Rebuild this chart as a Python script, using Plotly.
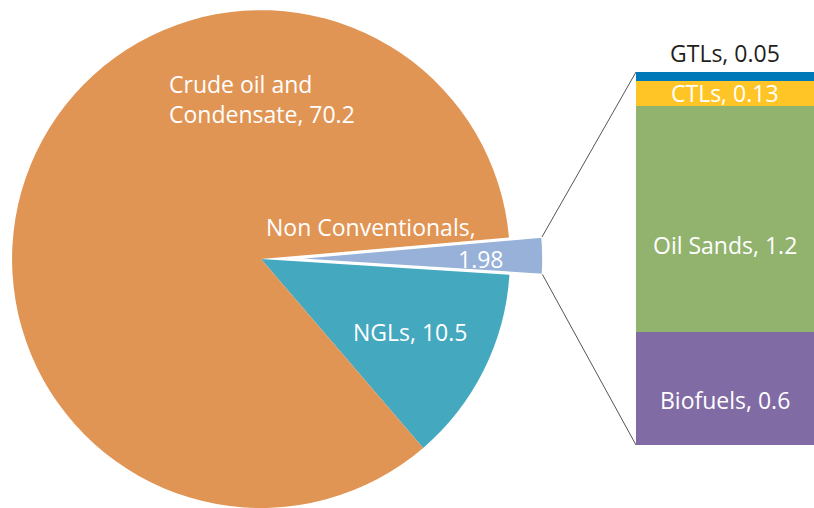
import math
import plotly.graph_objects as go

W, H = 814, 508

# ---- data ----
pie_labels = ["Non Conventionals", "NGLs", "Crude oil and Condensate"]
pie_values = [1.98, 10.5, 70.2]
pie_colors = ["#97B1D9", "#44A8BF", "#E19555"]

bar_labels = ["Biofuels", "Oil Sands", "CTLs", "GTLs"]
bar_values = [0.6, 1.2, 0.13, 0.05]
bar_colors = ["#806BA5", "#92B36E", "#FFC526", "#0079B8"]

# ---- geometry / style ----
ROTATION = 85
PULL_PX = 33
pie_dom_x = [0, 2 * 261 / W]
pie_dom_y = [0, 0.98]
bar_dom_x = [636 / W, 1]
bar_dom_y = [63 / H, 436 / H]

R = min(W * (pie_dom_x[1] - pie_dom_x[0]), H * (pie_dom_y[1] - pie_dom_y[0])) / 2
cx = W * (pie_dom_x[0] + pie_dom_x[1]) / 2
cy = H * (1 - (pie_dom_y[0] + pie_dom_y[1]) / 2)  # pixel from top

total = sum(pie_values)
theta1 = math.radians(90 - ROTATION)
span = 2 * math.pi * pie_values[0] / total
theta2 = theta1 - span
thetam = (theta1 + theta2) / 2
dx = PULL_PX * math.cos(thetam)
dy = PULL_PX * math.sin(thetam)
pulled_dom_x = [pie_dom_x[0] + dx / W, pie_dom_x[1] + dx / W]
pulled_dom_y = [pie_dom_y[0] + dy / H, pie_dom_y[1] + dy / H]
pcx, pcy = cx + dx, cy - dy

fig = go.Figure()

# main pie (non-conventionals slice left empty)
fig.add_trace(go.Pie(
    labels=pie_labels, values=pie_values, sort=False, direction="clockwise",
    rotation=ROTATION, textinfo="none", hoverinfo="label+value",
    marker=dict(colors=["rgba(0,0,0,0)", pie_colors[1], pie_colors[2]],
                line=dict(color="white", width=[0, 0, 0])),
    domain=dict(x=pie_dom_x, y=pie_dom_y), showlegend=False,
))
# pulled-out slice
fig.add_trace(go.Pie(
    labels=pie_labels, values=pie_values, sort=False, direction="clockwise",
    rotation=ROTATION, textinfo="none", hoverinfo="label+value",
    marker=dict(colors=[pie_colors[0], "rgba(0,0,0,0)", "rgba(0,0,0,0)"],
                line=dict(color="white", width=[1.5, 0, 0])),
    domain=dict(x=pulled_dom_x, y=pulled_dom_y), showlegend=False,
))

for lab, val, col in zip(bar_labels, bar_values, bar_colors):
    fig.add_trace(go.Bar(x=[0], y=[val], width=1, name=lab, marker_color=col,
                         marker_line_width=0, showlegend=False,
                         hovertemplate=lab + ", %{y}<extra></extra>"))

# connector lines
ux = pcx + R * math.cos(theta1)
uy = pcy - R * math.sin(theta1)
lx = pcx + R * math.cos(theta2)
ly = pcy - R * math.sin(theta2)
line_style = dict(color="#555555", width=1)
fig.add_shape(type="line", xref="paper", yref="paper",
              x0=ux / W, y0=1 - uy / H, x1=bar_dom_x[0], y1=bar_dom_y[1], line=line_style)
fig.add_shape(type="line", xref="paper", yref="paper",
              x0=lx / W, y0=1 - ly / H, x1=bar_dom_x[0], y1=bar_dom_y[0], line=line_style)

FONT = "Open Sans"
FS = 23

def ann_px(text, x, y, xanchor="center", align="center", color="white"):
    fig.add_annotation(text=text, x=x / W, y=1 - y / H, xref="paper", yref="paper",
                       xanchor=xanchor, yanchor="middle", align=align, showarrow=False,
                       font=dict(family=FONT, size=FS, color=color))

ann_px(f"Crude oil and<br>Condensate, {pie_values[2]}", 167, 99, xanchor="left", align="left")
ann_px("Non Conventionals,", 478, 227, xanchor="right", align="right")
ann_px(f"{pie_values[0]}", 506, 259, xanchor="right", align="right")
ann_px(f"NGLs, {pie_values[1]}", 410, 332)

# bar labels: (y position in data units, pixel shift)
bar_label_pos = {"GTLs": (sum(bar_values), 19), "CTLs": (1.868, 0),
                 "Oil Sands": (1.06, 0), "Biofuels": (0.239, 0)}
for lab, val in zip(bar_labels, bar_values):
    yv, ys = bar_label_pos[lab]
    fig.add_annotation(text=f"{lab}, {val}", x=0, y=yv, yshift=ys, xref="x", yref="y",
                       showarrow=False, yanchor="middle",
                       font=dict(family=FONT, size=FS,
                                 color="#231F20" if lab == "GTLs" else "white"))

fig.update_layout(
    width=W, height=H, margin=dict(l=0, r=0, t=0, b=0),
    paper_bgcolor="white", plot_bgcolor="white",
    barmode="stack", bargap=0,
    xaxis=dict(domain=bar_dom_x, range=[-0.5, 0.5], visible=False, fixedrange=True),
    yaxis=dict(domain=bar_dom_y, range=[0, sum(bar_values)], visible=False, fixedrange=True),
    font=dict(family=FONT),
)

fig.write_html("out.html", config={"displayModeBar": False},
               post_script="document.body.style.margin='0';document.body.style.overflow='hidden';")
